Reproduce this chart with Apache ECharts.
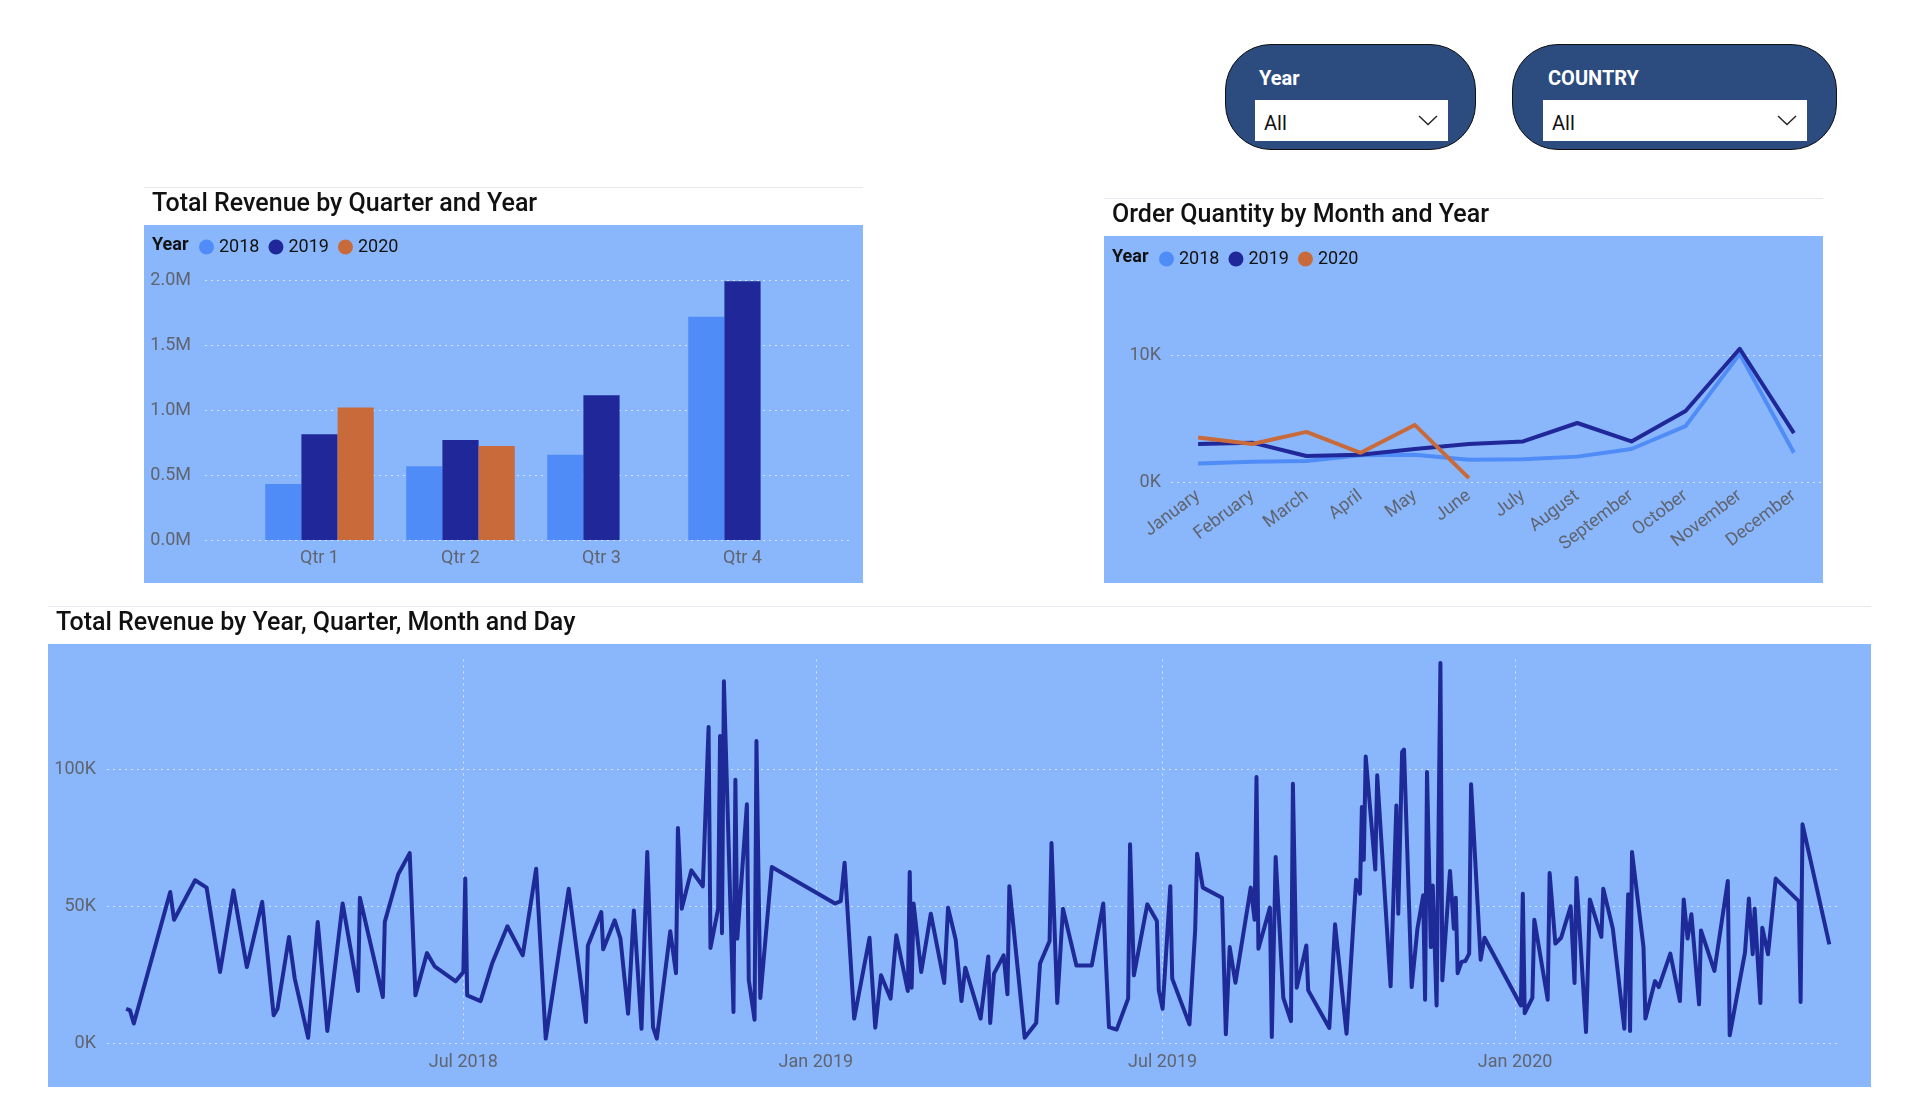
<!DOCTYPE html>
<html>
<head>
<meta charset="utf-8">
<title>Sales Dashboard</title>
<script src="https://cdn.jsdelivr.net/npm/echarts@6/dist/echarts.min.js"></script>
<style>
  html, body { margin: 0; padding: 0; width: 1920px; height: 1095px; background: #fff; overflow: hidden; font-family: Roboto, "Noto Sans", sans-serif; }
  .visual { position: absolute; border-top: 1px solid #e6e9ee; background: linear-gradient(#fff 0, #fff 37px, #8ab7fb 37px); }
  .slicer { position: absolute; top: 44px; height: 106px; box-sizing: border-box; background: #2c4b7f; border: 1.5px solid #111; border-radius: 46px; }
  .slicer .label { position: absolute; top: 21px; color: #fff; font-weight: 700; font-size: 20px; line-height: 24px; }
  .slicer .box { position: absolute; top: 55px; height: 41px; background: #fff; }
  .slicer .box span { position: absolute; left: 9px; top: 11px; font-size: 20px; line-height: 24px; color: #111; }
  .slicer .box svg { position: absolute; right: 10px; top: 15px; }
</style>
</head>
<body>

<div class="slicer" style="left:1225px; width:251px;">
  <div class="label" style="left:33px;">Year</div>
  <div class="box" style="left:29px; width:193px;"><span>All</span>
    <svg width="20" height="11" viewBox="0 0 20 11"><polyline points="1,1 10,9.5 19,1" fill="none" stroke="#222" stroke-width="1.4"/></svg>
  </div>
</div>
<div class="slicer" style="left:1512px; width:325px;">
  <div class="label" style="left:35px;">COUNTRY</div>
  <div class="box" style="left:30px; width:264px;"><span>All</span>
    <svg width="20" height="11" viewBox="0 0 20 11"><polyline points="1,1 10,9.5 19,1" fill="none" stroke="#222" stroke-width="1.4"/></svg>
  </div>
</div>

<div id="bar" class="visual" style="left:144px; top:187px; width:719px; height:395px;"></div>
<div id="qty" class="visual" style="left:1104px; top:198px; width:719px; height:384px;"></div>
<div id="daily" class="visual" style="left:48px; top:606px; width:1823px; height:480px;"></div>

<script>
const FONT = 'Roboto, "Noto Sans", sans-serif';
const LABEL_COLOR = '#5f6470';
const GRID_LINE = {type: [2, 4], color: 'rgba(235,242,255,0.75)', width: 1};
const YEAR_COLORS = ['#508cf8', '#1f2799', '#c96a3b'];

// ---- Total Revenue by Quarter and Year (millions)
const years = ['2018', '2019', '2020'];
const quarters = ['Qtr 1', 'Qtr 2', 'Qtr 3', 'Qtr 4'];
const revenue2018 = [0.430, 0.567, 0.655, 1.718];
const revenue2019 = [0.814, 0.770, 1.114, 1.990];
const revenue2020 = [1.019, 0.724, null, null];

// ---- Order Quantity by Month and Year
const months = ['January', 'February', 'March', 'April', 'May', 'June', 'July',
  'August', 'September', 'October', 'November', 'December'];
const qty2018 = [1450, 1600, 1650, 2100, 2150, 1750, 1800, 2000, 2600, 4400, 10100, 2300];
const qty2019 = [3000, 3100, 2050, 2150, 2600, 3000, 3200, 4650, 3200, 5600, 10500, 3850];
const qty2020 = [3500, 3000, 3950, 2300, 4500, 300];

// ---- Total Revenue by day (day offset from 2018-01-01, value in K)
const revenueDays = [
  5, 7, 9, 28, 30, 41, 47, 54, 61, 68, 76, 82, 84, 90, 93, 100, 105, 110, 118, 126,
  127, 139, 140, 147, 153, 156, 162, 166, 177, 181, 182, 183, 190, 196, 204, 212, 219, 224, 236, 245,
  246, 253, 254, 260, 263, 267, 270, 274, 277, 280, 282, 289, 292, 293, 295, 300, 306, 309, 310, 314,
  315, 316, 317, 322, 323, 324, 329, 330, 333, 334, 336, 342, 375, 378, 380, 385, 393, 396, 399, 404,
  407, 413, 414, 415, 416, 420, 425, 432, 434, 438, 441, 443, 451, 455, 456, 458, 463, 465, 466, 474,
  480, 482, 487, 488, 491, 494, 501, 509, 515, 518, 522, 528, 529, 531, 538, 543, 544, 546, 550, 551,
  560, 563, 564, 567, 577, 579, 581, 584, 592, 594, 595, 596, 602, 603, 605, 609, 613, 614, 616, 621,
  622, 633, 636, 642, 647, 649, 650, 651, 652, 657, 658, 665, 668, 669, 671, 672, 676, 679, 682, 683,
  684, 686, 687, 689, 691, 692, 696, 698, 699, 700, 702, 704, 706, 707, 712, 714, 733, 734, 735, 739,
  740, 747, 748, 751, 754, 759, 761, 762, 767, 769, 775, 776, 781, 787, 789, 790, 791, 797, 798, 803,
  805, 811, 816, 818, 820, 822, 826, 827, 834, 841, 842, 850, 852, 854, 855, 858, 859, 862, 866, 878,
  879, 880, 894
];
const revenueK = [
  12.5, 11.9, 7.1, 55.1, 45.0, 59.4, 56.7, 25.9, 55.7, 27.7, 51.5, 10.1, 12.5, 38.7, 23.5, 1.9, 44.2, 4.4, 50.9, 19.0,
  53.0, 16.8, 44.2, 61.6, 69.3, 17.4, 32.8, 28.0, 22.5, 25.9, 60.0, 17.4, 15.3, 29.0, 42.6, 32.0, 63.6, 1.6, 56.3, 7.7,
  35.6, 47.8, 34.2, 44.8, 38.1, 10.7, 48.4, 5.2, 69.7, 5.8, 1.6, 40.8, 25.5, 78.5, 49.0, 63.0, 57.2, 115.3, 34.7, 49.0,
  112.0, 40.1, 132.0, 11.3, 96.1, 38.1, 87.1, 22.9, 8.5, 110.2, 16.4, 64.2, 50.9, 51.8, 65.8, 8.9, 38.4, 5.6, 24.7, 16.2,
  39.3, 19.0, 62.4, 20.2, 50.9, 25.9, 47.2, 21.9, 49.4, 37.7, 15.3, 27.5, 8.9, 31.6, 7.3, 25.3, 32.0, 17.8, 57.2, 1.9,
  7.3, 29.0, 37.2, 73.0, 14.6, 49.0, 28.3, 28.3, 50.9, 5.8, 4.9, 16.2, 72.5, 24.7, 50.6, 44.5, 19.2, 12.5, 57.2, 23.5,
  6.8, 41.4, 69.1, 56.7, 53.0, 3.2, 35.0, 22.0, 56.7, 45.0, 97.1, 34.4, 49.4, 2.2, 67.9, 16.5, 8.0, 94.6, 20.2, 35.6,
  19.2, 5.5, 43.3, 3.4, 59.6, 54.5, 86.1, 66.9, 104.6, 63.3, 97.7, 20.7, 86.7, 47.2, 106.2, 107.1, 20.4, 41.7, 53.9, 15.8,
  98.9, 35.0, 57.5, 13.7, 138.7, 22.9, 62.8, 41.7, 53.0, 25.5, 29.6, 29.9, 32.6, 94.4, 30.4, 38.4, 13.7, 54.5, 10.9, 16.5,
  45.0, 15.8, 62.0, 36.3, 38.4, 49.9, 21.9, 60.2, 4.0, 52.4, 38.7, 56.3, 41.7, 5.2, 54.3, 4.4, 69.7, 35.0, 8.9, 22.6,
  20.4, 32.6, 15.3, 52.4, 38.1, 47.0, 14.1, 41.1, 26.3, 59.1, 2.8, 33.2, 52.7, 32.4, 49.0, 14.6, 42.1, 32.4, 60.0, 51.8,
  15.0, 79.8, 36.0
];
const dateTicks = ['2018-07-01', '2019-01-01', '2019-07-01', '2020-01-01'];
const monthShort = ['Jan', 'Feb', 'Mar', 'Apr', 'May', 'Jun', 'Jul', 'Aug', 'Sep', 'Oct', 'Nov', 'Dec'];

const titleStyle = {fontFamily: FONT, fontSize: 25, fontWeight: 500, color: '#111'};
const legendTitle = {fontFamily: FONT, fontSize: 18, fontWeight: 'bold', color: '#111'};
const axisText = {fontFamily: FONT, fontSize: 18, color: LABEL_COLOR};

function legendOpt() {
  return {
    left: 50, top: 45, icon: 'circle', itemWidth: 15, itemHeight: 15, itemGap: 9,
    textStyle: {fontFamily: FONT, fontSize: 18, color: '#111'}, data: years
  };
}

function toTime(s) {
  const p = s.split('-').map(Number);
  return new Date(p[0], p[1] - 1, p[2]).getTime();
}

// ---------- bar chart
const barChart = echarts.init(document.getElementById('bar'));
barChart.setOption({
  animation: false,
  title: [
    {text: 'Total Revenue by Quarter and Year', left: 3, top: -1, textStyle: titleStyle},
    {text: 'Year', left: 3, top: 43, textStyle: legendTitle}
  ],
  legend: legendOpt(),
  grid: [
    {left: 61, right: 11, top: 92, height: 260},
    {left: 105, right: 50, top: 92, height: 260}
  ],
  xAxis: [
    {gridIndex: 0, type: 'value', show: false},
    {
      gridIndex: 1, type: 'category', data: quarters,
      axisLine: {show: false}, axisTick: {show: false},
      axisLabel: Object.assign({margin: 9}, axisText)
    }
  ],
  yAxis: [
    {
      gridIndex: 0, type: 'value', min: 0, max: 2, interval: 0.5,
      axisLine: {show: false}, axisTick: {show: false},
      axisLabel: Object.assign({margin: 14, formatter: v => v.toFixed(1) + 'M'}, axisText),
      splitLine: {lineStyle: GRID_LINE}
    },
    {gridIndex: 1, type: 'value', min: 0, max: 2, show: false, splitLine: {show: false}}
  ],
  series: [revenue2018, revenue2019, revenue2020].map((d, i) => ({
    name: years[i], type: 'bar', xAxisIndex: 1, yAxisIndex: 1, data: d,
    barGap: 0, barCategoryGap: '23%', itemStyle: {color: YEAR_COLORS[i]}
  }))
});

// ---------- order quantity line chart
const qtyChart = echarts.init(document.getElementById('qty'));
qtyChart.setOption({
  animation: false,
  title: [
    {text: 'Order Quantity by Month and Year', left: 3, top: -1, textStyle: titleStyle},
    {text: 'Year', left: 3, top: 44, textStyle: legendTitle}
  ],
  legend: Object.assign(legendOpt(), {top: 46}),
  grid: {left: 67, right: 2, top: 80, height: 203},
  xAxis: {
    type: 'category', data: months, boundaryGap: true,
    axisLine: {show: false}, axisTick: {show: false},
    axisLabel: Object.assign({rotate: 37, interval: 0, margin: 12}, axisText)
  },
  yAxis: {
    type: 'value', min: 0, max: 16000, interval: 10000,
    axisLine: {show: false}, axisTick: {show: false},
    axisLabel: Object.assign({margin: 10, showMaxLabel: false, formatter: v => (v / 1000) + 'K'}, axisText),
    splitLine: {showMaxLine: false, lineStyle: GRID_LINE}
  },
  series: [qty2018, qty2019, qty2020].map((d, i) => ({
    name: years[i], type: 'line', data: d, showSymbol: false,
    lineStyle: {width: 4, color: YEAR_COLORS[i], join: 'round'},
    itemStyle: {color: YEAR_COLORS[i]}
  }))
});

// ---------- daily revenue line chart (x = timestamp on a value axis)
const dailyData = revenueDays.map((d, i) => [new Date(2018, 0, 1 + d).getTime(), revenueK[i]]);
const tickValues = dateTicks.map(toTime);

const dailyChart = echarts.init(document.getElementById('daily'));
dailyChart.setOption({
  animation: false,
  title: {text: 'Total Revenue by Year, Quarter, Month and Day', left: 3, top: -1, textStyle: titleStyle},
  grid: {left: 59, right: 34, top: 52.4, height: 383.6},
  xAxis: {
    type: 'value',
    min: toTime('2017-12-27'),
    max: toTime('2020-06-17'),
    axisLine: {show: false},
    axisTick: {show: false, customValues: tickValues},
    axisLabel: Object.assign({
      margin: 10, customValues: tickValues,
      formatter: v => { const d = new Date(v); return monthShort[d.getMonth()] + ' ' + d.getFullYear(); }
    }, axisText),
    splitLine: {show: true, lineStyle: GRID_LINE}
  },
  yAxis: {
    type: 'value', min: 0, max: 140, interval: 50,
    axisLine: {show: false}, axisTick: {show: false},
    axisLabel: Object.assign({margin: 11, showMaxLabel: false, formatter: v => v + 'K'}, axisText),
    splitLine: {showMaxLine: false, lineStyle: GRID_LINE}
  },
  series: [{
    name: 'Total Revenue', type: 'line', data: dailyData, showSymbol: false,
    lineStyle: {width: 4, color: '#1f2a99', join: 'round'}
  }]
});
</script>
</body>
</html>
